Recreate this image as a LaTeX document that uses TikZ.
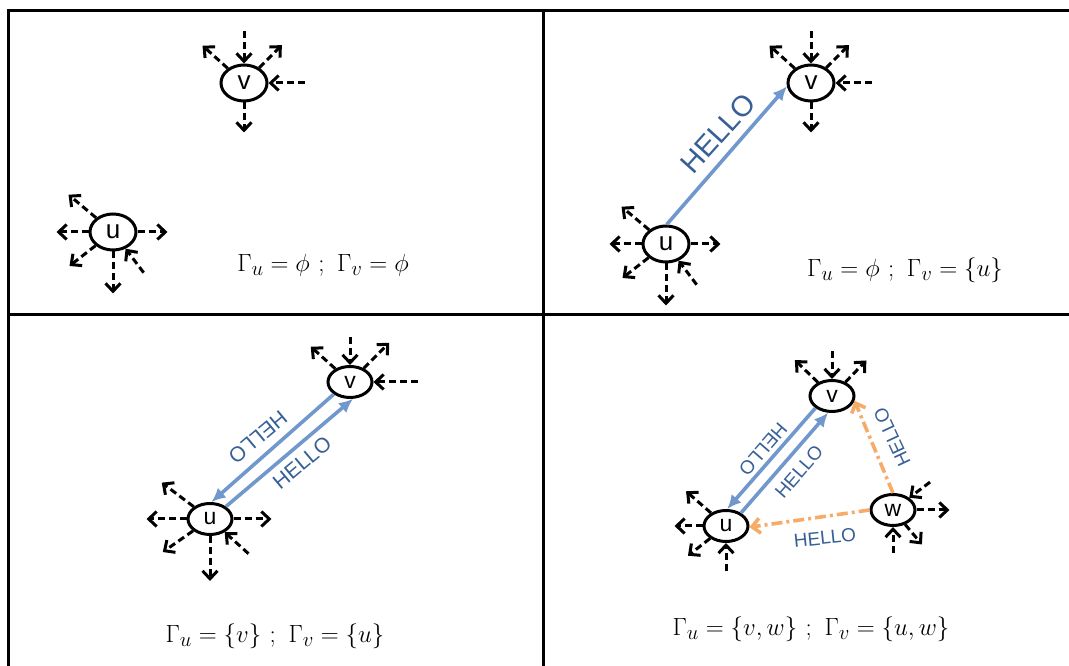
\documentclass[tikz,border=0pt]{standalone}
\usepackage{fontspec}
\setsansfont{Liberation Sans}
\usetikzlibrary{arrows.meta,shapes.geometric}
\definecolor{hellotxt}{RGB}{55,96,150}
\definecolor{helloln}{RGB}{112,152,204}
\definecolor{relay}{RGB}{246,172,104}

\begin{document}
\begin{tikzpicture}[x=1pt,y=1pt,
 peer/.style={ellipse,draw,line width=3pt,fill=white,minimum width=46pt,minimum height=36pt,inner sep=0pt,font=\sffamily\fontsize{26}{26}\selectfont},
 peersm/.style={peer,minimum width=44pt,minimum height=31pt,font=\sffamily\fontsize{23}{23}\selectfont},
 sp/.style={line width=3pt,dash pattern=on 7pt off 4pt,-{Straight Barb[length=8pt,width=15pt]}},
 hello/.style={draw=helloln,line width=3.6pt,-{Latex[length=14pt,width=13pt]}},
 fwd/.style={draw=relay,line width=3.6pt,dash pattern=on 11pt off 4pt on 3pt off 4pt,-{Straight Barb[length=8pt,width=15pt]}},
 lbl/.style={text=hellotxt,font=\sffamily\fontsize{21}{21}\selectfont,inner sep=0pt},
 eq/.style={font=\fontsize{28}{32}\selectfont,inner sep=0pt,anchor=base}]
\useasboundingbox (0,0) rectangle (1069,666);
% table frame
\draw[line width=3pt] (8,0) -- (8,655) -- (1069,655);
\draw[line width=3pt] (543,0) -- (543,655);
\draw[line width=3pt] (8,351) -- (1069,351);

% top left: nobody heard
\node[peer] (v1) at (244,583) {v};
\node[peer] (u1) at (113,434) {u};
\foreach \a/\l in {138/34,45/32,270/30} \draw[sp] (v1.\a) -- ++(\a:\l);
\foreach \a/\l in {90/32,0/36} \draw[sp] ([shift={(\a:\l)}]v1.\a) -- (v1.\a);
\foreach \a/\l in {140/36,180/32,0/30,218/33,270/42} \draw[sp] (u1.\a) -- ++(\a:\l);
\draw[sp] ([shift={(307:30)}]u1.307) -- (u1.307);
\node[eq] (g1) at (323,394) {$\Gamma_u = \phi\ ;\ \Gamma_v = \phi$};

% top right: v hears u
\node[peer] (v2) at (811,583) {v};
\node[peer] (u2) at (666,422) {u};
\foreach \a/\l in {138/34,45/32,270/30} \draw[sp] (v2.\a) -- ++(\a:\l);
\foreach \a/\l in {90/32,0/36} \draw[sp] ([shift={(\a:\l)}]v2.\a) -- (v2.\a);
\foreach \a/\l in {140/36,180/32,0/30,218/33,270/42} \draw[sp] (u2.\a) -- ++(\a:\l);
\draw[sp] ([shift={(307:30)}]u2.307) -- (u2.307);
\draw[hello] (u2.88) -- (v2.188);
\node[lbl,font=\sffamily\fontsize{29}{29}\selectfont,rotate=48] (h2) at (718,533) {HELLO};
\node[eq] (g2) at (905,389) {$\Gamma_u = \phi\ ;\ \Gamma_v = \{u\}$};

% bottom left: both directions
\node[peersm] (v3) at (350,284) {v};
\node[peersm] (u3) at (210,147) {u};
\foreach \a/\l in {138/33,45/36} \draw[sp] (v3.\a) -- ++(\a:\l);
\foreach \a/\l in {90/28,0/44} \draw[sp] ([shift={(\a:\l)}]v3.\a) -- (v3.\a);
\foreach \a/\l in {143/40,180/40,0/38,215/37,270/45} \draw[sp] (u3.\a) -- ++(\a:\l);
\draw[sp] ([shift={(318:32)}]u3.318) -- (u3.318);
\draw[hello] (v3.217) -- (u3.85);
\draw[hello] (u3.38) -- (v3.280);
\node[lbl,rotate=220] (h3a) at (258,229) {HELLO};
\node[lbl,rotate=40] (h3b) at (302,203) {HELLO};
\node[eq] (g3) at (275,23) {$\Gamma_u = \{v\}\ ;\ \Gamma_v = \{u\}$};

% bottom right: w joins
\node[peersm] (v4) at (832,270) {v};
\node[peersm] (u4) at (726,140) {u};
\node[peersm] (w4) at (893,156) {w};
\foreach \a/\l in {136/32,46/30} \draw[sp] (v4.\a) -- ++(\a:\l);
\draw[sp] ([shift={(90:28)}]v4.90) -- (v4.90);
\foreach \a/\l in {139/33,180/28,218/28} \draw[sp] (u4.\a) -- ++(\a:\l);
\draw[sp] ([shift={(270:28)}]u4.270) -- (u4.270);
\foreach \a/\l in {0/33,310/26} \draw[sp] (w4.\a) -- ++(\a:\l);
\foreach \a/\l in {37/26,270/26} \draw[sp] ([shift={(\a:\l)}]w4.\a) -- (w4.\a);
\draw[hello] (v4.216) -- (u4.86);
\draw[hello] (u4.41) -- (v4.257);
\draw[fwd] (w4.180) -- (u4.357);
\draw[fwd] (w4.90) -- (v4.348);
\node[lbl,font=\sffamily\fontsize{19}{19}\selectfont,rotate=229] (h4a) at (763,217) {HELLO};
\node[lbl,font=\sffamily\fontsize{19}{19}\selectfont,rotate=49] (h4b) at (799,194) {HELLO};
\node[lbl,font=\sffamily\fontsize{19}{19}\selectfont,rotate=6] (h4c) at (825,128) {HELLO};
\node[lbl,font=\sffamily\fontsize{19}{19}\selectfont,rotate=115] (h4d) at (892,229) {HELLO};
\node[eq] (g4) at (811,30) {$\Gamma_u = \{v, w\}\ ;\ \Gamma_v = \{u, w\}$};
\end{tikzpicture}
\end{document}
